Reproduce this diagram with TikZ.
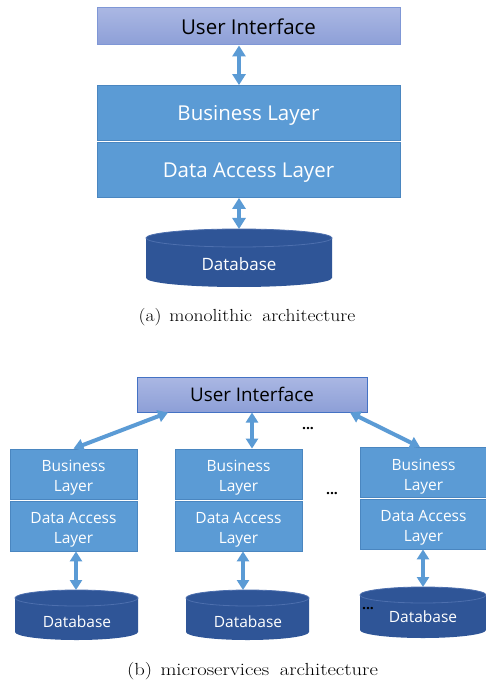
\documentclass[tikz,border=0pt]{standalone}
\usepackage{fontspec}
\newfontfamily\osans{Open Sans}
\usetikzlibrary{arrows.meta}
\definecolor{boxc}{HTML}{5B9BD5}
\definecolor{boxedge}{HTML}{4A86C0}
\definecolor{uitop}{HTML}{AAB7E3}
\definecolor{uibot}{HTML}{8D9FD7}
\definecolor{uiedgea}{HTML}{7F97D6}
\definecolor{uiedgeb}{HTML}{4472C4}
\definecolor{arrc}{HTML}{5B9BD5}
\definecolor{dbfill}{HTML}{2F5597}
\definecolor{dbline}{HTML}{4D6FAE}
\newcommand\dbcyl[6]{%
  \coordinate (#1-top) at (#2,#3);
  \fill[dbfill] (#2-#5,#3+#6) -- (#2-#5,#4-#6)
    arc[start angle=180,end angle=360,x radius=#5pt,y radius=#6pt]
    -- (#2+#5,#3+#6)
    arc[start angle=0,end angle=180,x radius=#5pt,y radius=#6pt] -- cycle;
  \draw[dbline,line width=0.8pt] (#2,#3+#6) ellipse [x radius=#5pt, y radius=#6pt];
}
\newcommand\topstrut{\rule{0pt}{19.5pt}}
\begin{document}
\begin{tikzpicture}[x=1pt,y=-1pt,
  layerbig/.style={rectangle, fill=boxc, draw=boxedge, line width=0.8pt, text=white,
    inner sep=0pt, minimum width=303, minimum height=55, text depth=0pt,
    font=\osans\fontsize{20.5}{24}\selectfont},
  uibig/.style={rectangle, top color=uitop, bottom color=uibot, draw=uiedgea, line width=1pt,
    text=black, inner sep=0pt, minimum width=303, minimum height=37,
    font=\osans\fontsize{20.5}{24}\selectfont},
  uismall/.style={rectangle, top color=uitop, bottom color=uibot, draw=uiedgeb, line width=1pt,
    text=black, inner sep=0pt, minimum width=230, minimum height=35,
    font=\osans\fontsize{18.8}{22}\selectfont},
  layersmall/.style={rectangle, fill=boxc, draw=boxedge, line width=0.8pt, text=white,
    inner sep=0pt, minimum width=127, minimum height=50, align=center,
    font=\osans\fontsize{15.5}{20}\selectfont},
  dbtext/.style={text=white, inner sep=0pt, font=\osans\fontsize{#1}{20}\selectfont},
  dbtext/.default=15.5,
  dbl/.style={draw=arrc, line width=4.5pt,
    {Triangle[width=13pt,length=11pt]}-{Triangle[width=13pt,length=11pt]}},
  dbls/.style={draw=arrc, line width=4pt,
    {Triangle[width=12pt,length=10pt]}-{Triangle[width=12pt,length=10pt]}},
  dotstext/.style={inner sep=0pt, text=black, font=\osans\bfseries\fontsize{14}{16}\selectfont},
  captext/.style={inner sep=0pt, text=black, font=\fontsize{17.5}{20}\selectfont}
]
\useasboundingbox (0,0) rectangle (486,684);
\clip (0,0) rectangle (486,684);
\fill[white] (0,0) rectangle (486,684);

% ---------- (a) monolithic ----------
\node[uibig] (ui) at (248.5,26.5) {User Interface};
\node[layerbig] (bl) at (248.5,113) {Business Layer};
\node[layerbig] (dal) at (248.5,170) {Data Access Layer};
\dbcyl{db}{239}{229}{287}{93}{9}
\node[dbtext=17] (dbt) at (239,264) {Database};
\draw[dbl] ([xshift=-9.5pt]ui.south) -- ([xshift=-9.5pt]bl.north);
\draw[dbl] ([xshift=-9.5pt]dal.south) -- (db-top);
\node[captext] (capa) at (247,317.5) {\scalebox{1.12}[1]{(a)\hspace{7pt}monolithic\hspace{9pt}architecture}};

% ---------- (b) microservices ----------
\node[uismall] (ui2) at (252,394.5) {User Interface};
\node[layersmall] (bl1) at (73.5,474) {\topstrut Business\\Layer};
\node[layersmall] (dal1) at (73.5,526) {\topstrut Data Access\\Layer};
\node[layersmall] (bl2) at (238.5,474) {\topstrut Business\\Layer};
\node[layersmall] (dal2) at (238.5,526) {\topstrut Data Access\\Layer};
\node[layersmall] (bl3) at (423.5,472.5) {\topstrut Business\\Layer};
\node[layersmall] (dal3) at (423.5,524) {\topstrut Data Access\\Layer};

\dbcyl{dba}{76.5}{590}{640}{61.5}{8}
\dbcyl{dbb}{247.5}{590}{640}{61.5}{8}
\dbcyl{dbc}{423}{587}{638}{63}{8}
\node[dbtext] (dbta) at (77,622) {Database};
\node[dbtext] (dbtb) at (248,622) {Database};
\node[dbtext] (dbtc) at (423,617) {Database};

\draw[dbls] ([xshift=-84pt]ui2.south) -- (bl1.north);
\draw[dbls] (ui2.south) -- ([xshift=13.5pt]bl2.north);
\draw[dbls] ([xshift=98pt]ui2.south) -- ([xshift=-3.5pt]bl3.north);

\draw[dbls] ([xshift=2.5pt]dal1.south) -- ([xshift=-0.5pt]dba-top);
\draw[dbls] ([xshift=4.5pt]dal2.south) -- ([xshift=-4.5pt]dbb-top);
\draw[dbls] ([xshift=-0.5pt]dal3.south) -- (dbc-top);

\node[dotstext] (d1) at (308,429) {...};
\node[dotstext] (d2) at (332,494) {...};
\node[dotstext] (d3) at (368,609) {...};

\node[captext] (capb) at (252.5,671.5) {\scalebox{1.18}[1]{(b)\hspace{7pt}microservices\hspace{9pt}architecture}};
\end{tikzpicture}
\end{document}
